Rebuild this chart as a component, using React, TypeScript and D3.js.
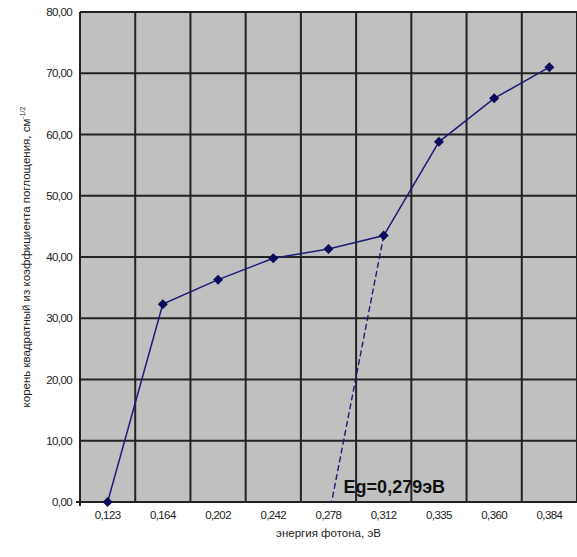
import React from "react";
import * as d3 from "d3";

const energies = ["0,123", "0,164", "0,202", "0,242", "0,278", "0,312", "0,335", "0,360", "0,384"];
const energyValues = [0.123, 0.164, 0.202, 0.242, 0.278, 0.312, 0.335, 0.36, 0.384];
const rootAlpha = [0, 32.3, 36.3, 39.8, 41.3, 43.5, 58.8, 65.9, 71.0];
const yTicks = [0, 10, 20, 30, 40, 50, 60, 70, 80];
const egValue = 0.279;
const egLabel = "Eg=0,279эВ";

const W = 577;
const H = 557;
const m = { left: 80, top: 12, right: 0, bottom: 55 };

export default function App() {
  const x = d3.scaleBand<string>().domain(energies).range([m.left, W - m.right]).padding(0);
  const y = d3.scaleLinear().domain([0, 80]).range([H - m.bottom, m.top]);
  const cx = (i: number) => (x(energies[i]) as number) + x.bandwidth() / 2;

  const line = d3
    .line<number>()
    .x((_, i) => cx(i))
    .y((v) => y(v));

  // position of Eg on the category axis, interpolated between neighbouring energies
  const k = energyValues.findIndex((e) => e > egValue) - 1;
  const egIdx = k + (egValue - energyValues[k]) / (energyValues[k + 1] - energyValues[k]);
  const egX = cx(0) + egIdx * x.bandwidth() + 1.5;
  const tangent = d3.line<[number, number]>()([
    [cx(5), y(rootAlpha[5])],
    [egX, y(0)],
  ]);

  const font = "'Liberation Sans', Arial, sans-serif";
  const r = 5;
  const diamond = `M0,${-r}L${r},0L0,${r}L${-r},0Z`;

  return (
    <svg width={W} height={H} style={{ position: "absolute", left: 0, top: 0, background: "#fff" }}>
      <rect x={m.left} y={m.top} width={W - m.left - m.right} height={H - m.top - m.bottom} fill="#c0c0c0" />
      {yTicks.map((t) => (
        <line key={"gy" + t} x1={m.left} x2={W - m.right} y1={y(t)} y2={y(t)} stroke="#222" strokeWidth={2} />
      ))}
      {energies.map((e) => (
        <line
          key={"gx" + e}
          x1={(x(e) as number) + x.bandwidth()}
          x2={(x(e) as number) + x.bandwidth()}
          y1={m.top}
          y2={H - m.bottom}
          stroke="#222"
          strokeWidth={2}
        />
      ))}
      <line x1={m.left} x2={m.left} y1={m.top} y2={H - m.bottom + 4} stroke="#222" strokeWidth={2} />
      <line x1={m.left - 4} x2={W} y1={y(0)} y2={y(0)} stroke="#222" strokeWidth={2} />

      <text
        x={egX + 12}
        y={y(0) - 9}
        fontFamily={font}
        fontWeight="bold"
        fontSize={18}
        fill="#111"
      >
        {egLabel}
      </text>

      <path d={tangent || ""} fill="none" stroke="#1c1c78" strokeWidth={1.4} strokeDasharray="6,3" />
      <path d={line(rootAlpha) || ""} fill="none" stroke="#1c1c78" strokeWidth={1.5} />
      {rootAlpha.map((v, i) => (
        <path key={"p" + i} d={diamond} transform={`translate(${cx(i)},${y(v)})`} fill="#0a0a5a" />
      ))}

      {yTicks.map((t) => (
        <text
          key={"ty" + t}
          x={m.left - 8}
          y={y(t)}
          dy="0.35em"
          textAnchor="end"
          fontFamily={font}
          fontSize={11.5}
          letterSpacing={-0.6}
          fill="#222"
        >
          {d3.format(".2f")(t).replace(".", ",")}
        </text>
      ))}
      {energies.map((e, i) => (
        <text
          key={"tx" + e}
          x={cx(i)}
          y={y(0) + 17}
          textAnchor="middle"
          fontFamily={font}
          fontSize={11.5}
          letterSpacing={-0.6}
          fill="#222"
        >
          {e}
        </text>
      ))}
      <text
        x={(m.left + W) / 2}
        y={y(0) + 35}
        textAnchor="middle"
        fontFamily={font}
        fontSize={11.5}
        fill="#222"
      >
        энергия фотона, эВ
      </text>
      <text
        transform={`translate(30,${(m.top + H - m.bottom) / 2}) rotate(-90)`}
        textAnchor="middle"
        fontFamily={font}
        fontSize={11.5}
        fill="#222"
      >
        корень квадратный из коэффициента поглощения, см
        <tspan dy={-5} fontSize={7}>
          -1/2
        </tspan>
      </text>
    </svg>
  );
}
